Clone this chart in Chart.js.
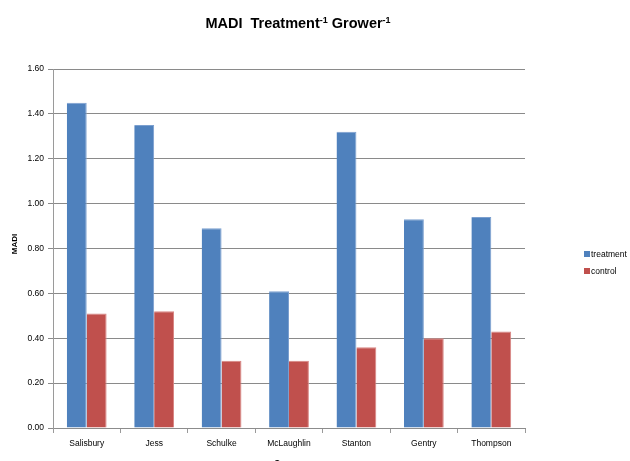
<!DOCTYPE html>
<html>
<head>
<meta charset="utf-8">
<script src="https://cdn.jsdelivr.net/npm/chart.js@4/dist/chart.umd.min.js"></script>
<style>
  html, body { margin: 0; padding: 0; background: #ffffff; }
  #wrap { width: 630px; height: 461px; position: relative; }
</style>
</head>
<body>
<div id="wrap"><canvas id="c" width="630" height="461"></canvas></div>
<script>
// Grower categories and MADI values per treatment group
const growers = ['Salisbury', 'Jess', 'Schulke', 'McLaughlin', 'Stanton', 'Gentry', 'Thompson'];
const treatment = [1.45, 1.35, 0.89, 0.61, 1.32, 0.93, 0.94];
const control = [0.51, 0.52, 0.30, 0.30, 0.36, 0.40, 0.43];
const yTicks = [0, 0.2, 0.4, 0.6, 0.8, 1.0, 1.2, 1.4, 1.6];

const FONT = '"Liberation Sans", "DejaVu Sans", sans-serif';
const BLUE = '#4F81BD';
const RED = '#C0504D';

// Title with superscript exponents, axis titles and a right-hand legend
const decorations = {
  id: 'decorations',
  afterDraw(chart) {
    const ctx = chart.ctx;
    const area = chart.chartArea;
    ctx.save();
    ctx.fillStyle = '#000';

    // Title: "MADI  Treatment^-1 Grower^-1"
    const parts = [
      { t: 'MADI  Treatment', sup: false },
      { t: '-1', sup: true },
      { t: ' Grower', sup: false },
      { t: '-1', sup: true }
    ];
    const bigFont = 'bold 14.5px ' + FONT;
    const supFont = 'bold 9px ' + FONT;
    let total = 0;
    parts.forEach(p => { ctx.font = p.sup ? supFont : bigFont; total += ctx.measureText(p.t).width; });
    let x = 298 - total / 2;
    const baseY = 28;
    ctx.textBaseline = 'alphabetic';
    ctx.textAlign = 'left';
    parts.forEach(p => {
      ctx.font = p.sup ? supFont : bigFont;
      ctx.fillText(p.t, x, p.sup ? baseY - 5 : baseY);
      x += ctx.measureText(p.t).width;
    });

    // Y axis title
    ctx.font = 'bold 8px ' + FONT;
    ctx.textAlign = 'center';
    ctx.textBaseline = 'middle';
    ctx.save();
    ctx.translate(15, 244);
    ctx.rotate(-Math.PI / 2);
    ctx.fillText('MADI', 0, 0);
    ctx.restore();

    // X axis title (falls partly below the canvas edge)
    ctx.font = 'bold 8.5px ' + FONT;
    ctx.fillText('Grower', (area.left + area.right) / 2, 464);

    // Legend
    const items = [
      { label: 'treatment', color: BLUE, y: 254 },
      { label: 'control', color: RED, y: 271 }
    ];
    ctx.font = '8.5px ' + FONT;
    ctx.textAlign = 'left';
    items.forEach(it => {
      ctx.fillStyle = it.color;
      ctx.fillRect(584, it.y - 3, 6, 6);
      ctx.fillStyle = '#000';
      ctx.fillText(it.label, 591, it.y + 0.5);
    });
    ctx.restore();
  }
};

new Chart(document.getElementById('c'), {
  type: 'bar',
  data: {
    labels: growers,
    datasets: [
      { label: 'treatment', data: treatment, backgroundColor: BLUE, borderColor: '#7B9FCF', borderWidth: { top: 1, left: 0, right: 1, bottom: 0 }, barPercentage: 1, categoryPercentage: 0.59 },
      { label: 'control', data: control, backgroundColor: RED, borderColor: '#D88583', borderWidth: { top: 1, left: 0, right: 1, bottom: 0 }, barPercentage: 1, categoryPercentage: 0.59 }
    ]
  },
  options: {
    responsive: false,
    animation: false,
    devicePixelRatio: 1,
    layout: { padding: { top: 69, right: 105, bottom: 0, left: 0 } },
    plugins: {
      legend: { display: false },
      title: { display: false },
      tooltip: { enabled: false }
    },
    scales: {
      x: {
        grid: { display: true, drawOnChartArea: false, drawTicks: true, tickLength: 5, color: '#9a9a9a', offset: true },
        border: { display: true, color: '#8c8c8c', width: 1 },
        ticks: { color: '#000', font: { family: FONT, size: 8.5 }, padding: 6, maxRotation: 0, autoSkip: false },
        afterFit(scale) { scale.height = 33; }
      },
      y: {
        min: 0,
        max: 1.6,
        afterBuildTicks(scale) { scale.ticks = yTicks.map(v => ({ value: v })); },
        grid: { color: '#8a8a8a', tickLength: 5, lineWidth: 1 },
        border: { display: true, color: '#9a9a9a', width: 1 },
        ticks: {
          color: '#000',
          font: { family: FONT, size: 8.5 },
          padding: 4,
          callback: v => Number(v).toFixed(2)
        },
        afterFit(scale) { scale.width = 53; }
      }
    }
  },
  plugins: [decorations]
});
</script>
</body>
</html>
